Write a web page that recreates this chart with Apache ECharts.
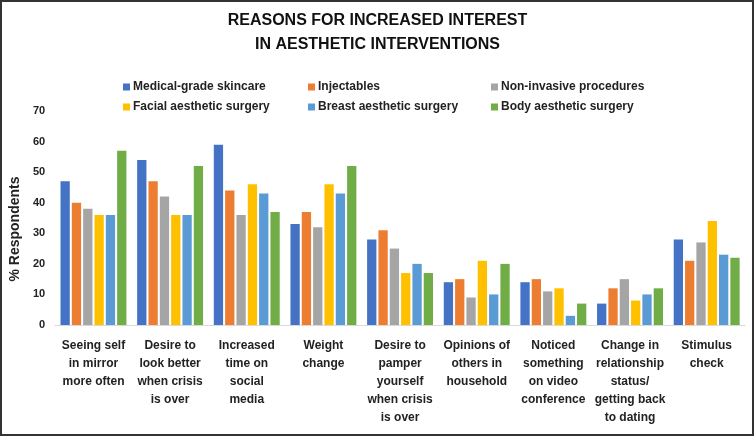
<!DOCTYPE html>
<html>
<head>
<meta charset="utf-8">
<script src="https://cdn.jsdelivr.net/npm/echarts@6/dist/echarts.min.js"></script>
<style>
  html, body { margin: 0; padding: 0; background: #fff; }
  #chart { width: 755px; height: 437px; }
</style>
</head>
<body>
<div id="chart"></div>
<script>
// categories (x axis), with line breaks as in the original
var categories = [
  "Seeing self\nin mirror\nmore often",
  "Desire to\nlook better\nwhen crisis\nis over",
  "Increased\ntime on\nsocial\nmedia",
  "Weight\nchange",
  "Desire to\npamper\nyourself\nwhen crisis\nis over",
  "Opinions of\nothers in\nhousehold",
  "Noticed\nsomething\non video\nconference",
  "Change in\nrelationship\nstatus/\ngetting back\nto dating",
  "Stimulus\ncheck"
];

var seriesNames = [
  "Medical-grade skincare",
  "Injectables",
  "Non-invasive procedures",
  "Facial aesthetic surgery",
  "Breast aesthetic surgery",
  "Body aesthetic surgery"
];

// values (% respondents)
var skincare   = [47, 54, 59, 33, 28, 14, 14, 7, 28];
var injectable = [40, 47, 44, 37, 31, 15, 15, 12, 21];
var nonInvasive = [38, 42, 36, 32, 25, 9, 11, 15, 27];
var facial     = [36, 36, 46, 46, 17, 21, 12, 8, 34];
var breast     = [36, 36, 43, 43, 20, 10, 3, 10, 23];
var body       = [57, 52, 37, 52, 17, 20, 7, 12, 22];

var yTicks = [0, 10, 20, 30, 40, 50, 60, 70];

var colors = ["#4472C4", "#ED7D31", "#A5A5A5", "#FFC000", "#5B9BD5", "#70AD47"];
var font = "'Liberation Sans Narrow', 'Arial Narrow', 'Liberation Sans', Arial, sans-serif";
var allData = [skincare, injectable, nonInvasive, facial, breast, body];

var series = allData.map(function (d, i) {
  return {
    name: seriesNames[i],
    type: "bar",
    data: d,
    barGap: "22%",
    barCategoryGap: "14%",
    itemStyle: { color: colors[i] }
  };
});

// legend: 3 columns x 2 rows
function legendCol(left, names) {
  return {
    left: left,
    top: 76,
    orient: "vertical",
    itemWidth: 7,
    itemHeight: 7,
    itemGap: 8,
    icon: "rect",
    data: names,
    textStyle: { fontFamily: font, fontWeight: "bold", fontSize: 12, color: "#222", padding: [0, 0, 0, -2] },
    selectedMode: false
  };
}

var chart = echarts.init(document.getElementById("chart"));
chart.setOption({
  animation: false,
  textStyle: { fontFamily: font },
  title: {
    text: "REASONS FOR INCREASED INTEREST\nIN AESTHETIC INTERVENTIONS",
    left: "center",
    top: 4,
    textStyle: { fontFamily: font, fontSize: 16, fontWeight: "bold", color: "#111", lineHeight: 24 }
  },
  legend: [
    legendCol(118, [seriesNames[0], seriesNames[3]]),
    legendCol(303, [seriesNames[1], seriesNames[4]]),
    legendCol(486, [seriesNames[2], seriesNames[5]])
  ],
  grid: { left: 55, right: 10, top: 111, bottom: 112 },
  xAxis: {
    type: "category",
    data: categories,
    axisLine: { lineStyle: { color: "#d9d9d9", width: 1 } },
    axisTick: { show: false },
    axisLabel: {
      interval: 0,
      margin: 12,
      fontFamily: font,
      fontWeight: "bold",
      fontSize: 12,
      lineHeight: 18,
      color: "#222"
    }
  },
  yAxis: {
    type: "value",
    min: yTicks[0],
    max: yTicks[yTicks.length - 1],
    interval: 10,
    name: "% Respondents",
    nameLocation: "middle",
    nameRotate: 90,
    nameGap: 27,
    nameTextStyle: { fontFamily: font, fontWeight: "bold", fontSize: 14, color: "#222", padding: [0, 0, 0, -22] },
    splitLine: { show: false },
    axisLine: { show: false },
    axisTick: { show: false },
    axisLabel: { fontFamily: font, fontWeight: "bold", fontSize: 11, color: "#222", margin: 10 }
  },
  graphic: [{
    type: "rect",
    shape: { x: 1, y: 1, width: 752, height: 434 },
    style: { fill: null, stroke: "#333", lineWidth: 2 },
    silent: true
  }],
  series: series
});
window.addEventListener("resize", function () { chart.resize(); });
</script>
</body>
</html>
